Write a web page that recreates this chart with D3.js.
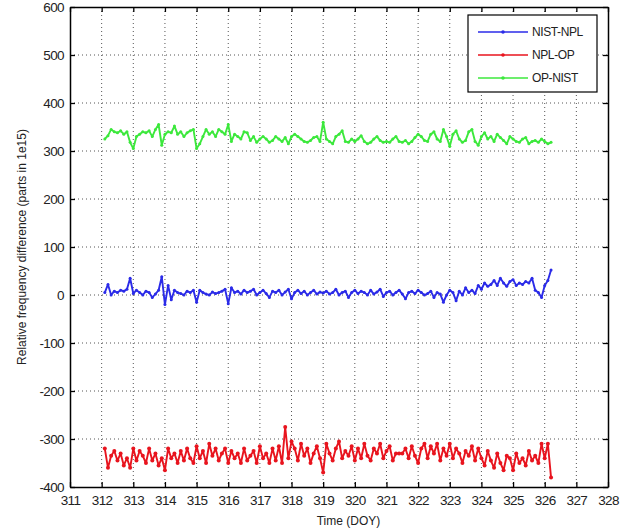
<!DOCTYPE html>
<html>
<head>
<meta charset="utf-8">
<script src="https://cdn.jsdelivr.net/npm/d3@7"></script>
<style>
  body { margin: 0; background: #fff; }
  text { font-family: "Liberation Sans", Arial, sans-serif; }
</style>
</head>
<body>
<div id="chart"></div>
<script>
// sampling: one point every 0.1 day starting at DOY 312.1
const startDay = 312.1, stepDay = 0.1;

const nistNpl = [
  5, 22, 0, 8, 5, 10, 8, 12, 35, 3,
  10, 5, 0, 8, 5, -5, 2, 10, 38, -20,
  20, -10, 10, 5, 3, 0, 8, 5, 10, -15,
  10, 5, 2, 0, 6, 3, 5, 8, 12, -18,
  15, 5, 8, 2, 10, 5, 8, 12, 0, 5,
  10, 3, -5, 8, 5, 10, 0, 6, 12, -8,
  5, 10, 3, 8, 0, 5, 10, 2, 6, 4,
  8, 2, 5, 12, 0, 5, 8, -5, 5, 10,
  3, 8, 5, 0, 10, 2, 6, 12, -3, 5,
  8, 0, 5, 10, 2, -8, 5, 8, 3, 10,
  5, 0, 3, 8, -5, 5, 2, -15, 0, 10,
  5, -12, 8, 0, 15, 5, 10, 3, 20, 12,
  25, 18, 22, 30, 20, 35, 25, 18, 28, 32,
  20, 25, 22, 28, 25, 35, 10, 5, -5, 20,
  30, 52
];

const nplOp = [
  -320, -360, -335, -325, -345, -330, -355, -340, -360, -320,
  -345, -325, -335, -350, -320, -345, -330, -355, -340, -365,
  -320, -340, -330, -350, -325, -345, -320, -340, -350, -315,
  -340, -325, -350, -310, -335, -320, -345, -330, -320, -350,
  -325, -340, -330, -350, -320, -345, -335, -325, -350, -315,
  -340, -330, -350, -320, -345, -315, -350, -275, -340, -305,
  -320, -345, -310, -335, -320, -350, -330, -315, -340, -370,
  -310, -330, -345, -320, -305, -340, -325, -335, -315, -345,
  -320, -340, -310, -335, -345, -320, -330, -310, -340, -325,
  -315, -345, -330, -330, -330, -320, -340, -315, -335, -350,
  -320, -310, -340, -315, -330, -310, -345, -320, -335, -310,
  -340, -320, -330, -350, -325, -335, -315, -345, -320, -340,
  -355, -325, -345, -360, -330, -350, -365, -335, -340, -365,
  -330, -350, -340, -355, -325, -345, -335, -350, -310, -340,
  -310, -380
];

const opNist = [
  325, 332, 345, 340, 338, 342, 335, 340, 318, 305,
  330, 335, 340, 338, 342, 330, 345, 355, 312, 335,
  340, 338, 352, 335, 340, 330, 338, 342, 345, 305,
  315, 330, 345, 335, 340, 330, 345, 340, 335, 355,
  320, 335, 330, 325, 340, 338, 322, 330, 318, 325,
  330, 325, 318, 322, 330, 325, 320, 328, 315, 330,
  335, 330, 325, 320, 318, 322, 328, 330, 320, 360,
  325, 320, 315, 330, 335, 342, 320, 318, 325, 320,
  325, 332, 320, 315, 318, 325, 330, 322, 318, 320,
  318, 325, 330, 320, 318, 322, 315, 320, 328, 335,
  330, 322, 320, 335, 340, 325, 320, 345, 330, 310,
  335, 342, 325, 318, 322, 340, 345, 320, 312, 330,
  338, 325, 330, 320, 335, 328, 322, 315, 330, 325,
  320, 318, 325, 328, 315, 320, 322, 318, 325, 320,
  315, 318
];

const seriesNames = ["NIST-NPL", "NPL-OP", "OP-NIST"];
const seriesColors = ["#2b2be8", "#e8141e", "#3ce83c"];
const xTicks = d3.range(311, 329);
const yTicks = d3.range(-400, 601, 100);

const width = 633, height = 531;
const margin = {top: 7, right: 25, bottom: 44, left: 70};
const innerW = width - margin.left - margin.right;
const innerH = height - margin.top - margin.bottom;

const svg = d3.select("#chart").append("svg")
  .attr("width", width).attr("height", height);

const x = d3.scaleLinear().domain([311, 328]).range([margin.left, margin.left + innerW]);
const y = d3.scaleLinear().domain([-400, 600]).range([margin.top + innerH, margin.top]);

// grid
const grid = svg.append("g")
  .attr("stroke", "#555").attr("stroke-width", 1).attr("stroke-dasharray", "1,3");
grid.selectAll("line.gx")
  .data(xTicks.slice(1, -1))
  .join("line")
  .attr("x1", d => x(d)).attr("x2", d => x(d))
  .attr("y1", margin.top).attr("y2", margin.top + innerH);
grid.selectAll("line.gy")
  .data(yTicks.slice(1, -1))
  .join("line")
  .attr("y1", d => y(d)).attr("y2", d => y(d))
  .attr("x1", margin.left).attr("x2", margin.left + innerW);

// data lines
const all = [nistNpl, nplOp, opNist];
const line = d3.line()
  .x((d, i) => x(startDay + i * stepDay))
  .y(d => y(d));

all.forEach((vals, k) => {
  svg.append("path")
    .datum(vals)
    .attr("fill", "none")
    .attr("stroke", seriesColors[k])
    .attr("stroke-width", 1.9)
    .attr("stroke-linejoin", "round")
    .attr("d", line);
  svg.append("g")
    .selectAll("circle")
    .data(vals)
    .join("circle")
    .attr("cx", (d, i) => x(startDay + i * stepDay))
    .attr("cy", d => y(d))
    .attr("r", k === 1 ? 2 : 1.5)
    .attr("fill", seriesColors[k]);
});

// axes (MATLAB box with inward ticks), plain hyphen for negatives
const fmt = d => String(d);
const tickLen = 5;
svg.append("g")
  .attr("transform", `translate(0,${margin.top + innerH})`)
  .call(d3.axisBottom(x).tickValues(xTicks).tickFormat(fmt).tickSizeInner(-tickLen).tickSizeOuter(0).tickPadding(8));
svg.append("g")
  .attr("transform", `translate(0,${margin.top})`)
  .call(d3.axisTop(x).tickValues(xTicks).tickFormat("").tickSizeInner(-tickLen).tickSizeOuter(0));
svg.append("g")
  .attr("transform", `translate(${margin.left},0)`)
  .call(d3.axisLeft(y).tickValues(yTicks).tickFormat(fmt).tickSizeInner(-tickLen).tickSizeOuter(0).tickPadding(6));
svg.append("g")
  .attr("transform", `translate(${margin.left + innerW},0)`)
  .call(d3.axisRight(y).tickValues(yTicks).tickFormat("").tickSizeInner(-tickLen).tickSizeOuter(0));

svg.selectAll(".domain").attr("stroke", "#000").attr("stroke-width", 1.5);
svg.selectAll(".tick line").attr("stroke", "#000").attr("stroke-width", 1.3);
svg.selectAll(".tick text")
  .attr("fill", "#222")
  .style("font-size", "13.5px")
  .style("letter-spacing", "-0.6px");

// axis labels
svg.append("text")
  .attr("x", x(319.8)).attr("y", 525)
  .attr("text-anchor", "middle")
  .style("font-size", "12px")
  .attr("fill", "#222")
  .text("Time (DOY)");

svg.append("text")
  .attr("transform", `translate(26,${y(100)}) rotate(-90)`)
  .attr("text-anchor", "middle")
  .style("font-size", "12px")
  .attr("fill", "#222")
  .text("Relative frequency difference (parts in 1e15)");

// legend
const lg = svg.append("g").attr("transform", "translate(468,15)");
lg.append("rect")
  .attr("width", 129).attr("height", 77)
  .attr("fill", "#fff").attr("stroke", "#000").attr("stroke-width", 1.2);
seriesNames.forEach((name, k) => {
  const ly = 17 + k * 23;
  lg.append("line")
    .attr("x1", 10).attr("x2", 60)
    .attr("y1", ly).attr("y2", ly)
    .attr("stroke", seriesColors[k]).attr("stroke-width", 1.6);
  lg.append("circle")
    .attr("cx", 35).attr("cy", ly).attr("r", 1.8)
    .attr("fill", seriesColors[k]);
  lg.append("text")
    .attr("x", 64).attr("y", ly + 4)
    .style("font-size", "12px")
    .style("letter-spacing", "-0.4px")
    .attr("fill", "#222")
    .text(name);
});
</script>
</body>
</html>
